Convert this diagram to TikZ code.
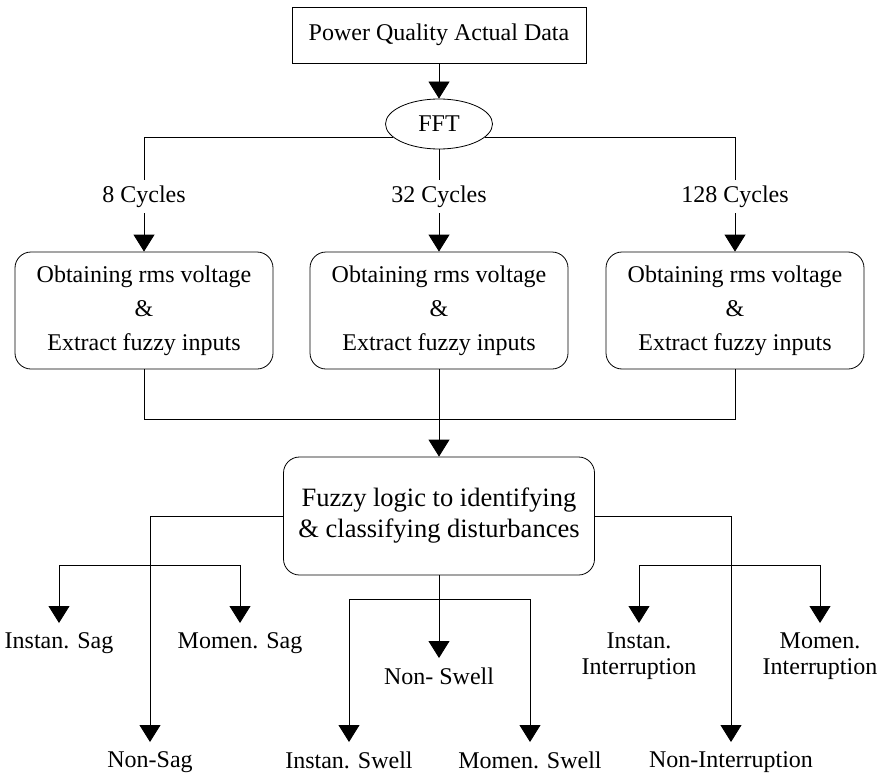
\documentclass[tikz,border=0pt]{standalone}
\usepackage{fontspec}
\setmainfont{Liberation Serif}
\usetikzlibrary{arrows.meta,shapes.geometric}
\begin{document}
\begin{tikzpicture}[x=1pt,y=-1pt,
  every node/.style={font=\fontsize{24}{34}\selectfont},
  line/.style={draw=black, line width=0.8pt},
  arr/.style={line, -{Triangle[length=17pt,width=21pt]}},
  procbox/.style={draw, line width=0.8pt, rounded corners=16pt, minimum width=258pt, minimum height=117pt, align=center, inner sep=0pt},
  lbl/.style={inner xsep=2pt, inner ysep=9.5pt, align=center, anchor=north, font=\fontsize{24}{26}\selectfont},
  cyc/.style={inner xsep=2pt, inner ysep=5.7pt}
]
\useasboundingbox (0,0) rectangle (880,773);

% top
\node[draw, line width=0.8pt, minimum width=294pt, minimum height=56pt, inner sep=0pt] (pq) at (439,35) {Power Quality Actual Data};
\node[ellipse, draw, line width=0.8pt, minimum width=107pt, minimum height=50pt, inner sep=0pt] (fft) at (439,124) {FFT};
\draw[arr] (pq.south) -- (fft.north);

% cycle labels
\node[cyc] (c8) at (144,196.5) {8 Cycles};
\node[cyc] (c32) at (439,196.5) {32 Cycles};
\node[cyc] (c128) at (735,196.5) {128 Cycles};

% processing boxes
\node[procbox] (b1) at (144,310.5) {Obtaining rms voltage\\ \&\\ Extract fuzzy inputs};
\node[procbox] (b2) at (439,310.5) {Obtaining rms voltage\\ \&\\ Extract fuzzy inputs};
\node[procbox] (b3) at (735,310.5) {Obtaining rms voltage\\ \&\\ Extract fuzzy inputs};

\draw[line] (fft.196) -| (c8.north);
\draw[line] (fft.south) -- (c32.north);
\draw[line] (fft.-16) -| (c128.north);
\draw[arr] (c8.south) -- (b1.north);
\draw[arr] (c32.south) -- (b2.north);
\draw[arr] (c128.south) -- (b3.north);

% fuzzy box
\node[procbox, minimum width=311pt, minimum height=118pt, font=\fontsize{26.5}{31}\selectfont] (fz) at (439,516) {Fuzzy logic to identifying\\ \& classifying disturbances};

\coordinate (J) at (439,419);
\draw[line] (b1.south) |- (J);
\draw[line] (b3.south) |- (J);
\draw[line] (b2.south) -- (J);
\draw[arr] (J) -- (fz.north);

% outputs
\node[lbl] (instsag) at (59,623) {Instan. Sag};
\node[lbl] (momsag) at (240,623) {Momen. Sag};
\node[lbl] (nonsag) at (150,742) {Non-Sag};
\node[lbl] (nonswell) at (439,658) {Non- Swell};
\node[lbl] (instswell) at (349,742) {Instan. Swell};
\node[lbl] (momswell) at (530,742) {Momen. Swell};
\node[lbl] (instint) at (639,623) {Instan.\\Interruption};
\node[lbl] (momint) at (820,623) {Momen.\\Interruption};
\node[lbl] (nonint) at (731,742) {Non-Interruption};

\draw[arr] (fz.west) -| (nonsag.north);
\coordinate (sagJ) at (150,565);
\draw[arr] (sagJ) -| (instsag.north);
\draw[arr] (sagJ) -| (momsag.north);

\draw[arr] (fz.south) -- (nonswell.north);
\coordinate (swJ) at (439,599);
\draw[arr] (swJ) -| (instswell.north);
\draw[arr] (swJ) -| (momswell.north);

\draw[arr] (fz.east) -| (nonint.north);
\coordinate (intJ) at (731,565);
\draw[arr] (intJ) -| (instint.north);
\draw[arr] (intJ) -| (momint.north);
\end{tikzpicture}
\end{document}
